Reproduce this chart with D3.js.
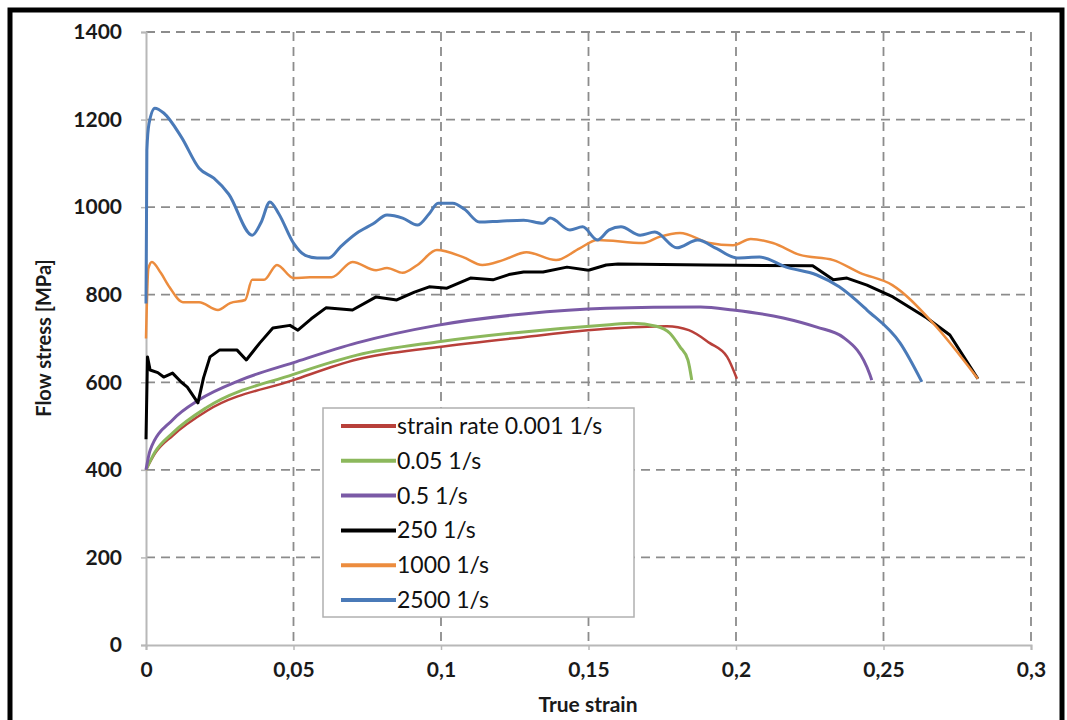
<!DOCTYPE html>
<html>
<head>
<meta charset="utf-8">
<script src="https://cdn.jsdelivr.net/npm/d3@7"></script>
<style>
  body { margin: 0; background: #fff; }
  svg { display: block; font-family: Lato, "Open Sans", sans-serif; }
</style>
</head>
<body>
<div id="chart"></div>
<script>
// tick values
const xTicks = [0, 0.05, 0.1, 0.15, 0.2, 0.25, 0.3];
const xTickLabels = ["0", "0,05", "0,1", "0,15", "0,2", "0,25", "0,3"];
const yTicks = [0, 200, 400, 600, 800, 1000, 1200, 1400];

// series: [true strain, flow stress MPa]
const rate0001 = [[0,400],[0.003,437],[0.009,478],[0.0207,535],[0.05,605],[0.0715,652],[0.0986,680],[0.128,703],[0.156,722],[0.1766,728],[0.184,719],[0.191,690],[0.197,658],[0.2003,608]];
const rate005 = [[0,400],[0.003,440],[0.009,484],[0.0207,543],[0.05,618],[0.0715,662],[0.0986,692],[0.128,715],[0.156,731],[0.165,735],[0.173,728],[0.1776,712],[0.181,681],[0.1837,651],[0.185,605]];
const rate05 = [[0,400],[0.0014,445],[0.009,514],[0.018,560],[0.032,605],[0.05,645],[0.0715,690],[0.0986,730],[0.128,756],[0.156,769],[0.188,772],[0.199,765],[0.216,747],[0.2274,726],[0.2363,703],[0.2454,617],[0.246,605]];
const rate250 = [[0,470],[0.0005,658],[0.0014,628],[0.004,622],[0.006,612],[0.009,621],[0.012,600],[0.014,589],[0.0176,553],[0.0195,610],[0.0217,658],[0.025,674],[0.0308,674],[0.034,651],[0.0386,690],[0.043,724],[0.0488,730],[0.0515,719],[0.056,745],[0.061,770],[0.070,765],[0.078,795],[0.085,788],[0.091,806],[0.096,818],[0.102,815],[0.110,838],[0.1176,834],[0.123,846],[0.128,852],[0.1346,852],[0.1427,863],[0.150,856],[0.156,868],[0.16,870],[0.19,868],[0.226,866],[0.233,834],[0.2376,838],[0.2444,822],[0.2532,795],[0.2647,747],[0.2725,708],[0.282,608]];
const rate1000 = [[0,700],[0.0008,860],[0.002,875],[0.005,850],[0.008,817],[0.0125,783],[0.018,783],[0.0244,765],[0.0285,781],[0.0336,788],[0.036,834],[0.040,834],[0.0444,868],[0.050,838],[0.0556,840],[0.063,840],[0.070,875],[0.078,856],[0.0817,861],[0.087,850],[0.092,868],[0.0986,902],[0.1075,886],[0.114,868],[0.121,879],[0.129,897],[0.139,879],[0.147,906],[0.153,925],[0.1685,918],[0.174,932],[0.181,941],[0.191,918],[0.199,913],[0.205,927],[0.2125,918],[0.2217,891],[0.233,879],[0.242,850],[0.253,822],[0.2668,735],[0.282,608]];
const rate2500 = [[0,780],[0.0003,1130],[0.001,1190],[0.003,1226],[0.006,1215],[0.012,1160],[0.018,1089],[0.023,1066],[0.028,1030],[0.036,936],[0.039,965],[0.042,1012],[0.045,985],[0.05,918],[0.054,890],[0.058,884],[0.062,884],[0.066,910],[0.0715,941],[0.077,962],[0.0817,982],[0.087,975],[0.092,959],[0.096,985],[0.099,1009],[0.104,1009],[0.108,995],[0.113,966],[0.12,968],[0.128,970],[0.1346,963],[0.137,975],[0.1437,948],[0.148,955],[0.153,925],[0.157,948],[0.161,955],[0.1675,936],[0.1725,943],[0.18,907],[0.187,925],[0.1935,905],[0.2003,884],[0.208,886],[0.217,863],[0.2274,845],[0.235,818],[0.2444,765],[0.2556,690],[0.263,601]];

const seriesNames = ["strain rate 0.001 1/s", "0.05 1/s", "0.5 1/s", "250 1/s", "1000 1/s", "2500 1/s"];
const seriesData = [rate0001, rate005, rate05, rate250, rate1000, rate2500];
const seriesColors = ["#b8403a", "#8cb85c", "#7a5aa6", "#000000", "#ec8c3e", "#4a7ab8"];
const seriesWidths = [2.5, 3, 3, 3, 2.5, 3];
const seriesSmooth = [true, true, true, false, true, true];

const W = 1067, H = 720;
const svg = d3.select("#chart").append("svg").attr("width", W).attr("height", H);

// outer black frame (bottom edge cropped in the reference)
svg.append("rect")
    .attr("x", 10).attr("y", 10)
    .attr("width", 1052).attr("height", 740)
    .attr("fill", "none").attr("stroke", "#000").attr("stroke-width", 5);

const x = d3.scaleLinear().domain([0, 0.3]).range([146, 1031]);
const y = d3.scaleLinear().domain([0, 1400]).range([645, 32]);

// dashed grid
const grid = svg.append("g");
grid.selectAll(".hgrid").data(yTicks.filter(d => d > 0)).enter().append("line")
    .attr("x1", x(0)).attr("x2", x(0.3))
    .attr("y1", d => y(d)).attr("y2", d => y(d))
    .attr("stroke", "#8c8c8c").attr("stroke-width", 1.8).attr("stroke-dasharray", "9,6");
grid.selectAll(".vgrid").data(xTicks.filter(d => d > 0)).enter().append("line")
    .attr("x1", d => x(d)).attr("x2", d => x(d))
    .attr("y1", y(1400)).attr("y2", y(0))
    .attr("stroke", "#8c8c8c").attr("stroke-width", 1.8).attr("stroke-dasharray", "9,6");

// axes
const xAxis = svg.append("g")
    .attr("transform", `translate(0,${y(0)})`)
    .call(d3.axisBottom(x).tickValues(xTicks).tickFormat((d, i) => xTickLabels[i]).tickSize(5).tickPadding(12));
const yAxis = svg.append("g")
    .attr("transform", `translate(${x(0)},0)`)
    .call(d3.axisLeft(y).tickValues(yTicks).tickFormat(d3.format("d")).tickSize(5).tickPadding(19));
[xAxis, yAxis].forEach(g => {
    g.select(".domain").attr("stroke", "#b8b8b8").attr("stroke-width", 2);
    g.selectAll(".tick line").attr("stroke", "#b8b8b8").attr("stroke-width", 1.5);
    g.selectAll(".tick text")
        .attr("fill", "#1a1a1a")
        .style("font-size", "21px")
        .style("font-weight", "bold")
        .style("font-family", "Lato, sans-serif");
});

// axis titles
svg.append("text")
    .attr("x", 588).attr("y", 712)
    .attr("text-anchor", "middle")
    .style("font-size", "21px").style("font-weight", "bold").attr("fill", "#1a1a1a")
    .text("True strain");
svg.append("text")
    .attr("transform", `translate(51,${338}) rotate(-90)`)
    .attr("text-anchor", "middle")
    .style("font-size", "20px").style("font-weight", "bold").attr("fill", "#1a1a1a")
    .text("Flow stress [MPa]");

// curves
const lineSmooth = d3.line().x(d => x(d[0])).y(d => y(d[1])).curve(d3.curveMonotoneX);
const lineRough = d3.line().x(d => x(d[0])).y(d => y(d[1]));
const curves = svg.append("g");
seriesData.forEach((s, i) => {
    curves.append("path")
        .attr("d", (seriesSmooth[i] ? lineSmooth : lineRough)(s))
        .attr("fill", "none")
        .attr("stroke", seriesColors[i])
        .attr("stroke-width", seriesWidths[i])
        .attr("stroke-linejoin", "round");
});

// legend
const legend = svg.append("g").attr("transform", "translate(323,408)");
legend.append("rect")
    .attr("width", 311).attr("height", 209)
    .attr("fill", "#fff").attr("stroke", "#b0b0b0").attr("stroke-width", 1.5);
seriesNames.forEach((name, i) => {
    const row = legend.append("g").attr("transform", `translate(0,${18 + i * 34.8})`);
    row.append("line")
        .attr("x1", 18).attr("x2", 73)
        .attr("stroke", seriesColors[i]).attr("stroke-width", 4);
    row.append("text")
        .attr("x", 74).attr("y", 0).attr("dy", "0.35em")
        .style("font-size", "23px").attr("fill", "#111")
        .text(name);
});
</script>
</body>
</html>
